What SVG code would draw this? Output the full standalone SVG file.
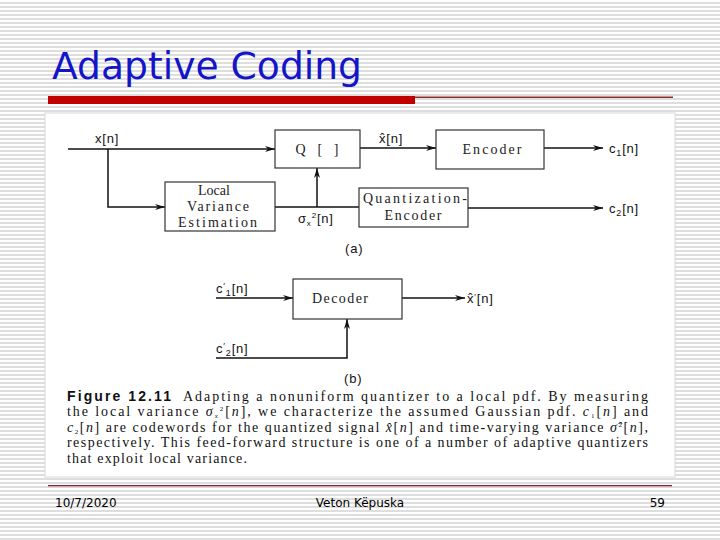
<svg xmlns="http://www.w3.org/2000/svg" width="720" height="540" viewBox="0 0 720 540">
<defs>
<pattern id="stripes" width="8" height="4" patternUnits="userSpaceOnUse">
<rect width="8" height="4" fill="#ffffff"/>
<rect y="2" width="8" height="2" fill="#dedede"/>
</pattern>
<marker id="arr" viewBox="0 0 10 6" refX="10" refY="3" markerWidth="10" markerHeight="6" markerUnits="userSpaceOnUse" orient="auto">
<path d="M0,0 L10,3 L0,6 L3,3 z" fill="#111"/>
</marker>
</defs>
<style>
.box{fill:#ffffff;stroke:#333;stroke-width:1.2}
.wire{fill:none;stroke:#111;stroke-width:1.5}
.bt{font-family:"Liberation Serif",serif;font-size:14px;fill:#222;text-anchor:middle}
.lb{font-family:"Liberation Sans",Arial,sans-serif;font-size:13px;fill:#111;letter-spacing:0.8px}
.cap{font-family:"Liberation Serif",serif;font-size:14px;fill:#111}
.foot{font-family:"DejaVu Sans",sans-serif;font-size:12px;fill:#000}
</style>
<rect width="720" height="540" fill="url(#stripes)"/>
<text x="52" y="79" font-family="DejaVu Sans, sans-serif" font-size="37" fill="#1414c8" textLength="310" lengthAdjust="spacingAndGlyphs">Adaptive Coding</text>
<rect x="48" y="96" width="367" height="8" fill="#c00000"/>
<rect x="415" y="96.5" width="258" height="1.5" fill="#8a2a2a"/>
<rect x="45" y="113" width="630" height="364" fill="#ffffff" stroke="#d8d8d8" stroke-width="1"/>

<g id="connectors">
<path class="wire" d="M68,149 H275" marker-end="url(#arr)"/>
<path class="wire" d="M108,149 V207 H165" marker-end="url(#arr)"/>
<path class="wire" d="M275,207 H359"/>
<path class="wire" d="M317,207 V168" marker-end="url(#arr)"/>
<path class="wire" d="M359,148 H436" marker-end="url(#arr)"/>
<path class="wire" d="M544,148 H603" marker-end="url(#arr)"/>
<path class="wire" d="M468,208 H603" marker-end="url(#arr)"/>
<path class="wire" d="M216,298 H293" marker-end="url(#arr)"/>
<path class="wire" d="M402,298 H465" marker-end="url(#arr)"/>
<path class="wire" d="M216,358 H347 V319" marker-end="url(#arr)"/>
</g>

<g id="quantizer">
<rect class="box" x="275" y="130" width="85" height="38"/>
<text class="bt" x="317" y="154" font-family="Liberation Sans, sans-serif" textLength="43">Q [    ]</text>
</g>
<g id="local-variance">
<rect class="box" x="165" y="182" width="110" height="49"/>
<text class="bt" x="214" y="195">Local</text>
<text class="bt" x="218" y="211" textLength="62">Variance</text>
<text class="bt" x="217.5" y="227" textLength="79">Estimation</text>
</g>
<g id="encoder">
<rect class="box" x="436" y="130" width="108" height="39"/>
<text class="bt" x="492" y="154" textLength="59">Encoder</text>
</g>
<g id="quantization-encoder">
<rect class="box" x="359" y="188" width="109" height="39"/>
<text class="bt" x="415" y="203" textLength="104">Quantization-</text>
<text class="bt" x="413" y="220" textLength="57">Encoder</text>
</g>
<g id="decoder">
<rect class="box" x="293" y="279" width="109" height="40"/>
<text class="bt" x="340" y="303" textLength="56">Decoder</text>
</g>

<g id="labels">
<text class="lb" x="95" y="143">x[n]</text>
<text class="lb" x="379" y="143">x̂[n]</text>
<text class="lb" x="609" y="153">c<tspan font-size="9" dy="3">1</tspan><tspan dy="-3">[n]</tspan></text>
<text class="lb" x="609" y="213">c<tspan font-size="9" dy="3">2</tspan><tspan dy="-3">[n]</tspan></text>
<text class="lb" x="298" y="223">σ<tspan font-size="8" dy="3">x</tspan><tspan font-size="8" dy="-8">2</tspan><tspan dy="5">[n]</tspan></text>
<text class="lb" x="345" y="253" font-family="Liberation Serif, serif">(a)</text>
<text class="lb" x="216" y="293">c<tspan font-size="9" dy="-4">′</tspan><tspan font-size="9" dy="7">1</tspan><tspan dy="-3">[n]</tspan></text>
<text class="lb" x="216" y="353">c<tspan font-size="9" dy="-4">′</tspan><tspan font-size="9" dy="7">2</tspan><tspan dy="-3">[n]</tspan></text>
<text class="lb" x="467" y="303">x̂<tspan font-size="9" dy="-3">′</tspan><tspan dy="3">[n]</tspan></text>
<text class="lb" x="344" y="383" font-family="Liberation Serif, serif">(b)</text>
</g>

<g id="caption">
<text x="67" y="401" font-family="Liberation Sans, sans-serif" font-weight="bold" font-size="14" fill="#111" textLength="104" lengthAdjust="spacing">Figure 12.11</text>
<text class="cap" x="183" y="401" textLength="465" lengthAdjust="spacing">Adapting a nonuniform quantizer to a local pdf.  By measuring</text>
<text class="cap" x="67" y="416" textLength="581" lengthAdjust="spacing">the local variance <tspan font-style="italic">σ</tspan><tspan font-size="7" font-style="italic" dy="2">x</tspan><tspan font-size="7" dy="-7">2</tspan><tspan dy="5">[<tspan font-style="italic">n</tspan>], we characterize the assumed Gaussian pdf. <tspan font-style="italic">c</tspan></tspan><tspan font-size="7" dy="2">1</tspan><tspan dy="-2">[<tspan font-style="italic">n</tspan>] and</tspan></text>
<text class="cap" x="67" y="432" textLength="581" lengthAdjust="spacing"><tspan font-style="italic">c</tspan><tspan font-size="7" dy="2">2</tspan><tspan dy="-2">[<tspan font-style="italic">n</tspan>] are codewords for the quantized signal <tspan font-style="italic">x̂</tspan>[<tspan font-style="italic">n</tspan>] and time-varying variance <tspan font-style="italic">σ̂</tspan></tspan><tspan font-size="7" dy="-5">2</tspan><tspan dy="5">[<tspan font-style="italic">n</tspan>],</tspan></text>
<text class="cap" x="67" y="447" textLength="581" lengthAdjust="spacing">respectively. This feed-forward structure is one of a number of adaptive quantizers</text>
<text class="cap" x="67" y="463" textLength="180" lengthAdjust="spacing">that exploit local variance.</text>
</g>

<rect x="48" y="485" width="624" height="1.5" fill="#7a2a3a"/>
<rect x="48" y="486.5" width="624" height="1" fill="#f0c8c8"/>
<text class="foot" x="55" y="507">10/7/2020</text>
<text class="foot" x="360" y="507" text-anchor="middle">Veton Këpuska</text>
<text class="foot" x="665" y="507" text-anchor="end">59</text>
</svg>
